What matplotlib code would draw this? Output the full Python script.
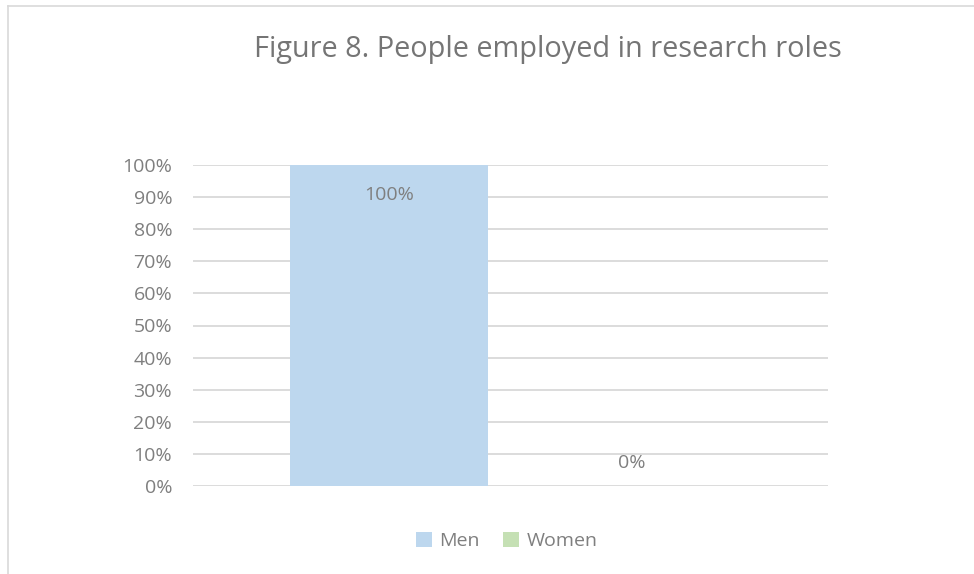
import matplotlib.pyplot as plt
from matplotlib.lines import Line2D
from matplotlib.patches import Patch

series = ['Men', 'Women']
values = [100, 0]
labels = ['100%', '0%']
colors = ['#bdd7ee', '#c5e0b4']
yticks = [0, 10, 20, 30, 40, 50, 60, 70, 80, 90, 100]

plt.rcParams['font.family'] = ['Open Sans', 'DejaVu Sans']

W, H = 974, 574
fig = plt.figure(figsize=(W / 100, H / 100), dpi=100)
ax = fig.add_axes([193 / W, 1 - 486 / H, (828 - 193) / W, (486 - 165) / H])

# bar positions in axis units (one category, two series with a gap)
xpos = [389, 632]
width = 198
for x, v, c in zip(xpos, values, colors):
    ax.bar(x, v, width=width, color=c, zorder=3)

ax.text(xpos[0], 90.5, labels[0], ha='center', va='center', fontsize=14, color='#7f7f7f', zorder=4)
ax.text(xpos[1], 7.3, labels[1], ha='center', va='center', fontsize=14, color='#7f7f7f', zorder=4)

ax.set_xlim(193, 828)
ax.set_ylim(0, 100)
ax.set_yticks(yticks)
ax.set_yticklabels([f'{t}%' for t in yticks])
ax.tick_params(axis='y', length=0, pad=15, labelsize=14, labelcolor='#7f7f7f')
ax.set_xticks([])
ax.yaxis.grid(True, color='#d9d9d9', linewidth=1.3, zorder=0)
for s in ax.spines.values():
    s.set_visible(False)

fig.text(548 / W, 1 - 49 / H, 'Figure 8. People employed in research roles',
         ha='center', va='center', fontsize=20.8, color='#757575')

handles = [Patch(facecolor=c, edgecolor='none') for c in colors]
fig.legend(handles, series, loc='center', bbox_to_anchor=(507 / W, 1 - 541 / H), ncol=2,
           frameon=False, fontsize=14, labelcolor='#7f7f7f', handlelength=0.8,
           handleheight=0.8, handletextpad=0.4, columnspacing=1.2)

# chart border
fig.add_artist(Line2D([8 / W, 1], [1 - 6 / H, 1 - 6 / H], color='#d9d9d9', linewidth=1.2))
fig.add_artist(Line2D([8 / W, 8 / W], [0, 1 - 6 / H], color='#d9d9d9', linewidth=1.2))

fig.savefig('out.png', dpi=100)
